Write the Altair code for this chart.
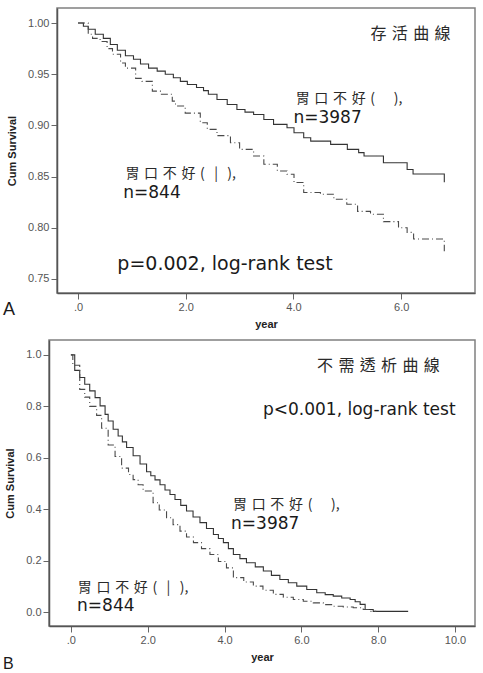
import altair as alt
import pandas as pd

SP = "\u2004"

# ---------------- Panel A: survival ----------------
a_neg_x = [0.00, 0.10, 0.19, 0.32, 0.47, 0.60, 0.73, 0.88, 1.03, 1.16, 1.31, 1.47, 1.62, 1.77,
           1.90, 2.03, 2.20, 2.33, 2.42, 2.58, 2.77, 2.95, 3.10, 3.26, 3.45, 3.63, 3.88, 4.01,
           4.19, 4.32, 4.69, 5.00, 5.21, 5.31, 5.67, 6.11, 6.22, 6.80, 6.80]
a_neg_y = [1.000, 0.9968, 0.9939, 0.9890, 0.9850, 0.9790, 0.9735, 0.9680, 0.9646, 0.9600,
           0.9560, 0.9530, 0.9500, 0.9465, 0.9430, 0.9399, 0.9370, 0.9340, 0.9305, 0.9253,
           0.9205, 0.9156, 0.9130, 0.9107, 0.9058, 0.9010, 0.8977, 0.8929, 0.8880, 0.8847,
           0.8815, 0.8766, 0.8734, 0.8701, 0.8636, 0.8570, 0.8526, 0.8526, 0.8445]
a_pos_x = [0.00, 0.19, 0.27, 0.41, 0.54, 0.64, 0.79, 0.88, 1.07, 1.19, 1.38, 1.53, 1.75, 1.81,
           1.99, 2.27, 2.40, 2.58, 2.83, 3.00, 3.26, 3.45, 3.70, 3.88, 4.01, 4.19, 4.50, 4.75,
           4.99, 5.19, 5.43, 5.67, 5.95, 6.11, 6.23, 6.80, 6.80]
a_pos_y = [1.000, 0.989, 0.985, 0.982, 0.975, 0.9695, 0.961, 0.956, 0.946, 0.943, 0.9335,
           0.9305, 0.9237, 0.919, 0.912, 0.9026, 0.8961, 0.8900, 0.8831, 0.8766, 0.8701,
           0.8620, 0.8555, 0.8523, 0.8442, 0.8344, 0.8328, 0.8279, 0.8230, 0.8160, 0.8133,
           0.8060, 0.8000, 0.7955, 0.7890, 0.7890, 0.7770]

# ---------------- Panel B: dialysis-free ----------------
b_neg_x = [0.00, 0.10, 0.23, 0.36, 0.49, 0.63, 0.76, 0.89, 0.97, 1.10, 1.23, 1.34, 1.45, 1.62,
           1.80, 1.97, 2.08, 2.19, 2.32, 2.45, 2.58, 2.71, 2.86, 3.01, 3.18, 3.36, 3.53, 3.71,
           3.84, 3.97, 4.10, 4.23, 4.40, 4.57, 4.80, 5.01, 5.22, 5.44, 5.66, 5.88, 6.14, 6.40,
           6.62, 6.83, 7.05, 7.27, 7.40, 7.53, 7.66, 7.87, 8.78]
b_neg_y = [1.000, 0.940, 0.912, 0.886, 0.860, 0.834, 0.802, 0.769, 0.743, 0.711, 0.685, 0.662,
           0.640, 0.608, 0.576, 0.546, 0.530, 0.514, 0.495, 0.475, 0.457, 0.438, 0.415, 0.393,
           0.370, 0.348, 0.325, 0.302, 0.286, 0.270, 0.247, 0.224, 0.208, 0.192, 0.176, 0.160,
           0.143, 0.127, 0.114, 0.101, 0.088, 0.075, 0.068, 0.062, 0.055, 0.049, 0.040, 0.030,
           0.010, 0.003, 0.003]
b_pos_x = [0.00, 0.05, 0.23, 0.36, 0.49, 0.67, 0.80, 0.97, 1.15, 1.32, 1.50, 1.62, 1.75, 1.88,
           2.14, 2.30, 2.49, 2.66, 2.84, 3.01, 3.19, 3.40, 3.62, 3.84, 4.05, 4.23, 4.50, 4.75,
           5.00, 5.27, 5.53, 5.79, 6.05, 6.31, 6.57, 6.83, 7.09, 7.35, 7.61, 7.79, 7.95]
b_pos_y = [1.000, 0.960, 0.866, 0.836, 0.800, 0.765, 0.715, 0.650, 0.605, 0.560, 0.535, 0.515,
           0.495, 0.471, 0.425, 0.397, 0.367, 0.340, 0.315, 0.292, 0.270, 0.247, 0.224, 0.197,
           0.172, 0.134, 0.117, 0.101, 0.085, 0.069, 0.058, 0.049, 0.042, 0.036, 0.029, 0.023,
           0.020, 0.017, 0.010, 0.003, 0.003]

grp_neg = "胃口不好(-)"
grp_pos = "胃口不好(+)"

a_y_ticks = [0.75, 0.80, 0.85, 0.90, 0.95, 1.00]
a_x_ticks = [0, 2, 4, 6]
b_y_ticks = [0.0, 0.2, 0.4, 0.6, 0.8, 1.0]
b_x_ticks = [0, 2, 4, 6, 8, 10]


def spaced(s):
    return SP.join(s)


lab_neg = spaced("胃口不好") + SP + "(" + SP * 4 + "),"
lab_pos = spaced("胃口不好") + SP + "(" + SP * 2 + "|" + SP * 2 + "),"

a_cjk = pd.DataFrame({
    "text": [spaced("存活曲線"), lab_neg, lab_pos],
    "x": [5.43, 4.04, 0.88],
    "y": [0.989, 0.9257, 0.8526],
    "fs": [16, 14, 14],
})
a_lat = pd.DataFrame({
    "text": ["n=3987", "n=844", "p=0.002, log-rank  test"],
    "x": [4.00, 0.84, 0.73],
    "y": [0.9072, 0.8341, 0.765],
    "fs": [17, 17, 19],
})
b_cjk = pd.DataFrame({
    "text": [spaced("不需透析曲線"), lab_neg, lab_pos],
    "x": [6.41, 4.22, 0.18],
    "y": [0.957, 0.416, 0.093],
    "fs": [16, 14, 14],
})
b_lat = pd.DataFrame({
    "text": ["p<0.001, log-rank test", "n=3987", "n=844"],
    "x": [5.0, 4.17, 0.16],
    "y": [0.786, 0.342, 0.023],
    "fs": [17, 17, 17],
})


def curve_df(nx, ny, px, py):
    rows = []
    for i, (x, y) in enumerate(zip(nx, ny)):
        rows.append({"year": x, "surv": y, "group": grp_neg, "ord": i})
    for i, (x, y) in enumerate(zip(px, py)):
        rows.append({"year": x, "surv": y, "group": grp_pos, "ord": i})
    return pd.DataFrame(rows)


x_label_expr = "datum.value == 0 ? '.0' : format(datum.value, '.1f')"


def panel(df, cjk, lat, xdom, ydom, xticks, yticks, yfmt, w, h, letter, letter_x, letter_y, letter_fs):
    x = alt.X("year:Q", scale=alt.Scale(domain=xdom, nice=False, zero=False),
              axis=alt.Axis(values=xticks, labelExpr=x_label_expr, title="year"))
    y = alt.Y("surv:Q", scale=alt.Scale(domain=ydom, nice=False, zero=False),
              axis=alt.Axis(values=yticks, format=yfmt, title="Cum Survival"))
    lines = alt.Chart(df).mark_line(interpolate="step-after", strokeWidth=1.1).encode(
        x=x, y=y,
        order="ord:Q",
        color=alt.Color("group:N", scale=alt.Scale(domain=[grp_neg, grp_pos],
                                                   range=["#333333", "#4a4a4a"]), legend=None),
        strokeDash=alt.StrokeDash("group:N", scale=alt.Scale(domain=[grp_neg, grp_pos],
                                                             range=[[1, 0], [7, 3, 1, 3]]),
                                  legend=None),
    )
    t_cjk = alt.Chart(cjk).mark_text(align="left", baseline="middle", font="Noto Sans CJK TC",
                                     color="#2a2a2a").encode(
        x="x:Q", y="y:Q", text="text:N", size=alt.Size("fs:Q", scale=None))
    t_lat = alt.Chart(lat).mark_text(align="left", baseline="middle", font="DejaVu Sans",
                                     color="#1a1a1a").encode(
        x="x:Q", y="y:Q", text="text:N", size=alt.Size("fs:Q", scale=None))
    let = alt.Chart(pd.DataFrame({"t": [letter]})).mark_text(
        align="left", baseline="middle", font="Liberation Sans", fontSize=letter_fs,
        color="#1a1a1a").encode(text="t:N", x=alt.value(letter_x), y=alt.value(letter_y))
    return alt.layer(lines, t_cjk, t_lat, let).properties(width=w, height=h)


chart_a = panel(curve_df(a_neg_x, a_neg_y, a_pos_x, a_pos_y), a_cjk, a_lat,
                [-0.39, 7.37], [0.7363, 1.0147], a_x_ticks, a_y_ticks, ".2f",
                418, 285, "A", -54, 302, 18)
chart_b = panel(curve_df(b_neg_x, b_neg_y, b_pos_x, b_pos_y), b_cjk, b_lat,
                [-0.57, 10.52], [-0.054, 1.058], b_x_ticks, b_y_ticks, ".1f",
                426, 286, "B", -46, 324, 16)

# an empty 1px cell that shifts panel A's plot 8px right of panel B's (as in the original figure)
spacer = alt.Chart(pd.DataFrame({"t": [""]})).mark_text(fontSize=0, opacity=0).encode(
    text="t:N", x=alt.value(0), y=alt.value(0)).properties(
    width=1, height=1, view=alt.ViewBackground(strokeWidth=0))
row_a = alt.hconcat(spacer, chart_a, spacing=7, bounds="flush")

chart = alt.vconcat(row_a, chart_b, spacing=9).properties(
    padding={"left": 2, "top": 7, "right": 0, "bottom": 0},
    background="white",
).configure_view(
    stroke="#808080", strokeWidth=1.5
).configure_axis(
    grid=False,
    domainColor="#555555", domainWidth=1.5,
    tickColor="#666666", tickSize=6, tickWidth=1,
    labelFont="Liberation Sans", labelFontSize=11, labelColor="#555555", labelPadding=2,
    titleFont="Liberation Sans", titleFontSize=11, titleFontWeight="bold", titleColor="#222222",
).configure_axisX(
    titlePadding=6
).configure_axisY(
    titlePadding=10
)

chart.save("out.html", embed_options={"renderer": "svg", "actions": False})
